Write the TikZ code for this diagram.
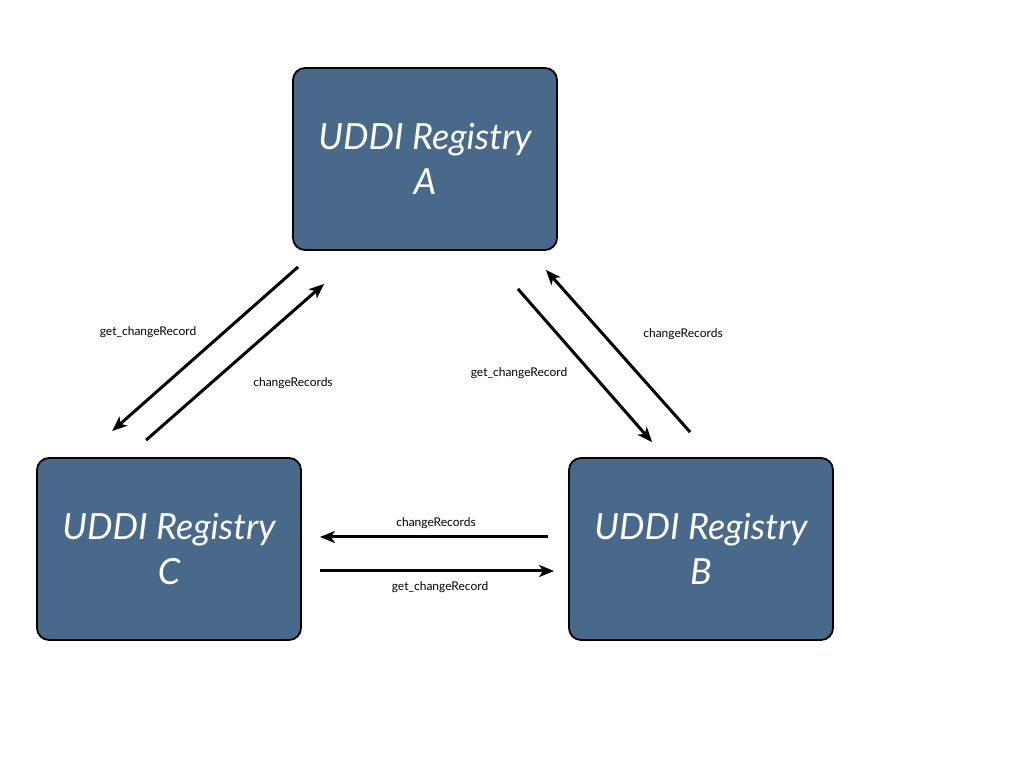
\documentclass[tikz,border=0pt]{standalone}
\usepackage{fontspec}
\setmainfont{Lato}
\usetikzlibrary{positioning,arrows.meta}
\definecolor{regblue}{RGB}{72,105,138}
\tikzset{
  registry/.style = {draw=black, line width=1.8pt, fill=regblue, rounded corners=12pt,
                     minimum width=264pt, minimum height=182pt, align=center,
                     text=white, font=\fontsize{36}{45}\selectfont\itshape},
  msg/.style      = {-{Stealth[length=15pt,width=12pt,inset=4pt]}, line width=3pt},
  lbl/.style      = {font=\fontsize{12}{14}\selectfont}
}
\begin{document}
\begin{tikzpicture}[x=1pt,y=1pt]
\useasboundingbox (0,0) rectangle (1024,768);

% the three registries
\node[registry] (A) at (425,609) {UDDI Registry\\A};
\node[registry] (C) at (169,219) {UDDI Registry\\C};
\node[registry] (B) at (701,219) {UDDI Registry\\B};

% free ends of the arrows, relative to the boxes
\coordinate (ac1) at ([shift={(6,-16)}]A.south west);
\coordinate (ac2) at ([shift={(32,-33)}]A.south west);
\coordinate (ca1) at ([shift={(76,26)}]C.north west);
\coordinate (ca2) at ([shift={(110,17)}]C.north west);
\coordinate (ab1) at ([shift={(-40,-38)}]A.south east);
\coordinate (ab2) at ([shift={(-12,-19)}]A.south east);
\coordinate (ba1) at ([shift={(84,15)}]B.north west);
\coordinate (ba2) at ([shift={(122,25)}]B.north west);
\coordinate (cb1) at ([shift={(18,12)}]C.east);
\coordinate (cb2) at ([shift={(18,-22)}]C.east);
\coordinate (bc1) at ([shift={(-20,12)}]B.west);
\coordinate (bc2) at ([shift={(-14,-22)}]B.west);

% A <-> C
\draw[msg] (ac1) -- (ca1);
\draw[msg] (ca2) -- (ac2);
\node[lbl] (l1) at (148,436) {get\_changeRecord};
\node[lbl] (l2) at (293,385) {changeRecords};

% A <-> B
\draw[msg] (ab1) -- (ba1);
\draw[msg] (ba2) -- (ab2);
\node[lbl] (l3) at (519,395) {get\_changeRecord};
\node[lbl] (l4) at (683,434) {changeRecords};

% C <-> B
\draw[msg] (bc1) -- (cb1);
\draw[msg] (cb2) -- (bc2);
\node[lbl] (l5) at (436,245) {changeRecords};
\node[lbl] (l6) at (440,181) {get\_changeRecord};

\end{tikzpicture}
\end{document}
